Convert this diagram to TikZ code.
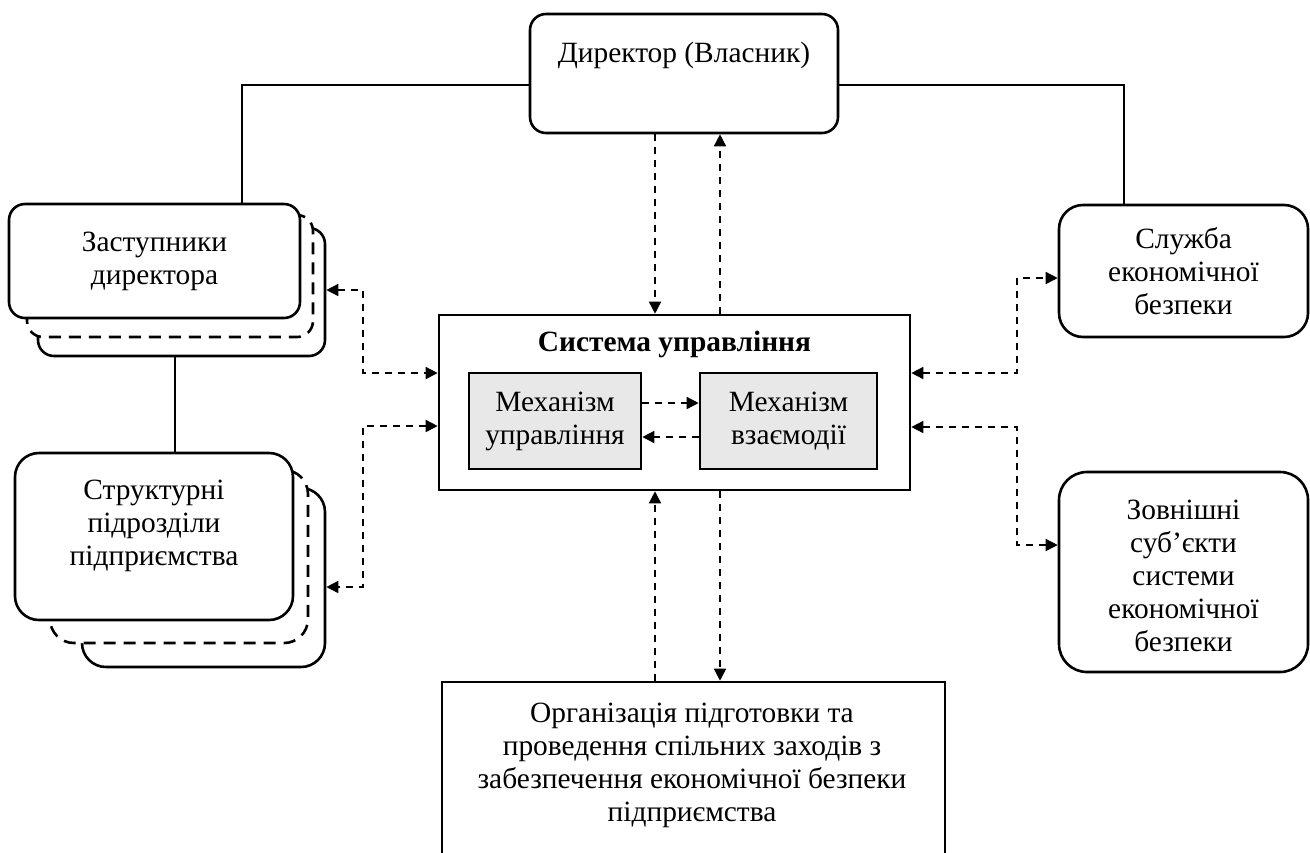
\documentclass[tikz,border=0pt]{standalone}
\usepackage{fontspec}
\setmainfont{Liberation Serif}
\usetikzlibrary{arrows.meta}

\begin{document}
\begin{tikzpicture}[x=0.5pt, y=-0.5pt, font=\fontsize{14.7}{16.5}\selectfont, >={Triangle[length=6pt,width=6pt]}]
  \tikzstyle{blk}=[draw, line width=1.3pt, fill=white, align=center, inner sep=0pt]
  \tikzstyle{rnd}=[blk, rounded corners=8pt]
  \tikzstyle{ghost}=[rnd, dash pattern=on 6pt off 4pt]
  \tikzstyle{mech}=[blk, fill=gray!18]
  \tikzstyle{link}=[line width=0.8pt]
  \tikzstyle{flow}=[->, line width=0.75pt, dash pattern=on 3.5pt off 3pt]
  \tikzstyle{both}=[flow, <->]

  \useasboundingbox (0,0) rectangle (1310,852);
  \clip (0,0) rectangle (1310,852); % page frame

  \node[rnd, minimum width=154pt, minimum height=59.5pt] (dir) at (684,73.5) {Директор (Власник)\\ \strut}; % Top box

  \node[rnd, minimum width=143.5pt, minimum height=64pt] (zastb) at (181.5,292) {}; % Back copy
  \node[ghost, minimum width=143pt, minimum height=61pt] (zastd) at (170,276) {}; % Dashed copy
  \node[rnd, minimum width=145.5pt, minimum height=57pt] (zast) at (154.5,261) {Заступники\\директора};

  \node[rnd, rounded corners=12pt, minimum width=121.5pt, minimum height=89.5pt] (strb) at (203.5,577.5) {}; % Back copy
  \node[ghost, rounded corners=12pt, minimum width=129pt, minimum height=86.5pt] (strd) at (179,556.5) {}; % Dashed copy
  \node[rnd, rounded corners=12pt, minimum width=139pt, minimum height=83.5pt] (str) at (154,536.5) {};
  \node[align=center] (strtxt) at (154,526) {Структурні\\підрозділи\\підприємства};

  \node[blk, minimum width=235.5pt, minimum height=87.5pt] (sys) at (674.5,402.5) {}; % Centre box
  \node[font=\fontsize{14.7}{16.5}\selectfont\bfseries] (systitle) at (674.5,344) {Система управління};
  \node[mech, minimum width=86pt, minimum height=48pt] (mu) at (555,421) {Механізм\\управління};
  \node[mech, minimum width=88.5pt, minimum height=48pt] (mv) at (788.5,421) {Механізм\\взаємодії};

  \node[rnd, rounded corners=12pt, minimum width=124.5pt, minimum height=66pt] (sec) at (1183.5,271) {Служба\\економічної\\безпеки};
  \node[rnd, rounded corners=14pt, minimum width=124.5pt, minimum height=100pt] (ext) at (1183.5,572) {};
  \node[align=center] (exttxt) at (1183.5,576) {Зовнішні\\суб’єкти\\системи\\економічної\\безпеки};

  \node[blk, minimum width=251.5pt, minimum height=100pt] (org) at (693.5,782) {}; % Bottom box
  \node[align=center] (orgtxt) at (692,765) {Організація підготовки та\\проведення спільних заходів з\\забезпечення економічної безпеки\\підприємства};

  \draw[link] (dir.west |- 0,85) -| (zast.north -| 242,0); % Left branch
  \draw[link] (dir.east |- 0,85) -| (sec.north -| 1124,0); % Right branch
  \draw[link] (zastb.south -| 175,0) -- (str.north -| 175,0);

  \draw[flow] (dir.south -| 655,0) -- (sys.north -| 655,0);
  \draw[flow] (sys.north -| 720,0) -- (dir.south -| 720,0);
  \draw[flow] (org.north -| 655,0) -- (sys.south -| 655,0);
  \draw[flow] (sys.south -| 720,0) -- (org.north -| 720,0);
  \draw[flow] (mu.east |- 0,403) -- (mv.west |- 0,403);
  \draw[flow] (mv.west |- 0,437) -- (mu.east |- 0,437);

  \draw[both] (zastb.east |- 0,290) -- (363,290) |- (sys.west |- 0,373);
  \draw[both] (sys.west |- 0,426) -- (363,426) |- (strb.east |- 0,587);
  \draw[both] (sys.east |- 0,373) -- (1017,373) |- (sec.west |- 0,278);
  \draw[both] (sys.east |- 0,427) -- (1017,427) |- (ext.west |- 0,545);
\end{tikzpicture}
\end{document}
